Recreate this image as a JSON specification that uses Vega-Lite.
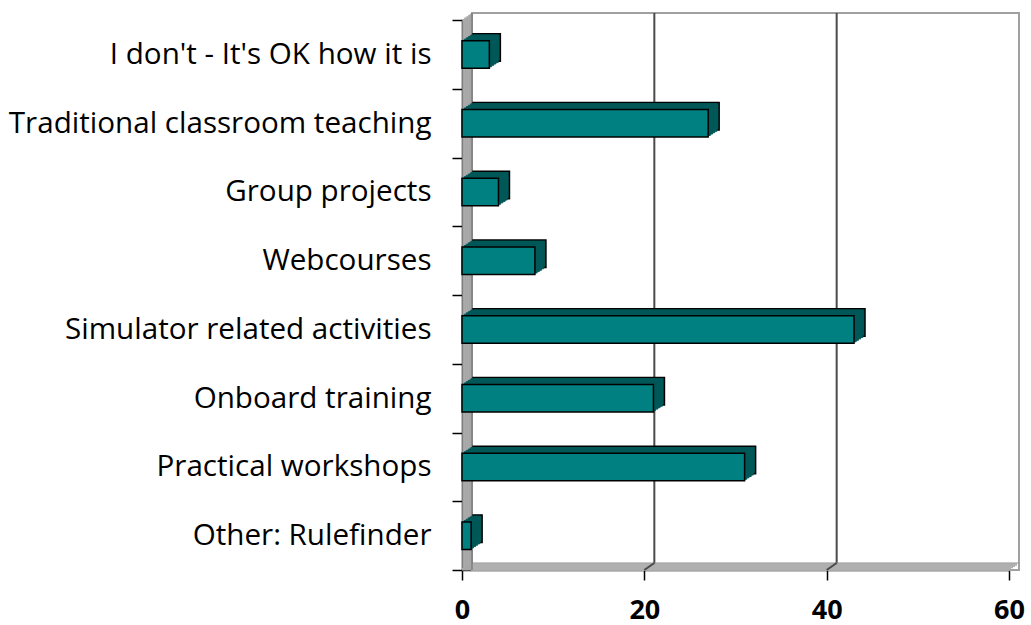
{
  "$schema": "https://vega.github.io/schema/vega-lite/v6.json",
  "autosize": "none",
  "width": 547,
  "height": 550,
  "padding": {"left": 462, "top": 20, "right": 22, "bottom": 55},
  "background": "#ffffff",
  "datasets": {
    "bars": [
      {"c": "I don't - It's OK how it is", "v": 3},
      {"c": "Traditional classroom teaching", "v": 27},
      {"c": "Group projects", "v": 4},
      {"c": "Webcourses", "v": 8},
      {"c": "Simulator related activities", "v": 43},
      {"c": "Onboard training", "v": 21},
      {"c": "Practical workshops", "v": 31},
      {"c": "Other: Rulefinder", "v": 1}
    ],
    "one": [{"w": 1}],
    "grid": [{"g": 20}, {"g": 40}]
  },
  "layer": [
    {
      "data": {"name": "bars"},
      "mark": {"type": "bar", "height": {"band": 0.4}, "opacity": 0},
      "encoding": {
        "y": {"field": "c", "type": "nominal", "sort": null, "scale": {"domain": ["I don't - It's OK how it is", "Traditional classroom teaching", "Group projects", "Webcourses", "Simulator related activities", "Onboard training", "Practical workshops", "Other: Rulefinder"], "paddingInner": 0, "paddingOuter": 0}, "axis": {"title": null}},
        "x": {"field": "v", "type": "quantitative", "stack": null, "scale": {"domain": [0, 60]}, "axis": {"values": [0, 20, 40, 60], "title": null}},
        "x2": {"datum": 0}
      }
    },
    {
      "data": {"name": "one"},
      "mark": {"type": "rect", "fill": "#ffffff", "stroke": "#a0a0a0", "strokeWidth": 2, "xOffset": 10, "x2Offset": 10, "yOffset": -7, "y2Offset": -7},
      "encoding": {"x": {"datum": 0, "type": "quantitative"}, "x2": {"datum": 60}}
    },
    {
      "data": {"name": "grid"},
      "mark": {"type": "rule", "stroke": "#4a4a4a", "strokeWidth": 2, "xOffset": 10, "x2Offset": 10, "yOffset": -7, "y2Offset": -7},
      "encoding": {"x": {"field": "g", "type": "quantitative"}}
    },
    {
      "data": {"name": "one"},
      "mark": {"type": "rule", "stroke": "#b0b0b0", "strokeWidth": 2.5, "xOffset": 0, "x2Offset": 0, "yOffset": -0.8},
      "encoding": {"x": {"datum": 0, "type": "quantitative"}, "x2": {"datum": 60}, "y": {"datum": "Other: Rulefinder", "bandPosition": 1, "type": "nominal"}}
    },
    {
      "data": {"name": "one"},
      "mark": {"type": "rule", "stroke": "#b0b0b0", "strokeWidth": 2.5, "xOffset": 2, "x2Offset": 2, "yOffset": -1.8},
      "encoding": {"x": {"datum": 0, "type": "quantitative"}, "x2": {"datum": 60}, "y": {"datum": "Other: Rulefinder", "bandPosition": 1, "type": "nominal"}}
    },
    {
      "data": {"name": "one"},
      "mark": {"type": "rule", "stroke": "#b0b0b0", "strokeWidth": 2.5, "xOffset": 4, "x2Offset": 4, "yOffset": -3.0},
      "encoding": {"x": {"datum": 0, "type": "quantitative"}, "x2": {"datum": 60}, "y": {"datum": "Other: Rulefinder", "bandPosition": 1, "type": "nominal"}}
    },
    {
      "data": {"name": "one"},
      "mark": {"type": "rule", "stroke": "#b0b0b0", "strokeWidth": 2.5, "xOffset": 6, "x2Offset": 6, "yOffset": -4.3},
      "encoding": {"x": {"datum": 0, "type": "quantitative"}, "x2": {"datum": 60}, "y": {"datum": "Other: Rulefinder", "bandPosition": 1, "type": "nominal"}}
    },
    {
      "data": {"name": "one"},
      "mark": {"type": "rule", "stroke": "#b0b0b0", "strokeWidth": 2.5, "xOffset": 8, "x2Offset": 8, "yOffset": -5.6},
      "encoding": {"x": {"datum": 0, "type": "quantitative"}, "x2": {"datum": 60}, "y": {"datum": "Other: Rulefinder", "bandPosition": 1, "type": "nominal"}}
    },
    {
      "data": {"name": "one"},
      "mark": {"type": "rule", "stroke": "#909090", "strokeWidth": 1, "xOffset": 10, "x2Offset": 10, "yOffset": -7},
      "encoding": {"x": {"datum": 0, "type": "quantitative"}, "x2": {"datum": 60}, "y": {"datum": "Other: Rulefinder", "bandPosition": 1, "type": "nominal"}}
    },
    {
      "data": {"name": "grid"},
      "mark": {"type": "point", "shape": "M0,0L-1,0.7", "filled": false, "size": 400, "stroke": "#4a4a4a", "strokeWidth": 2, "opacity": 1, "xOffset": 10, "yOffset": -7},
      "encoding": {"x": {"field": "g", "type": "quantitative"}, "y": {"datum": "Other: Rulefinder", "bandPosition": 1, "type": "nominal"}}
    },
    {
      "data": {"name": "one"},
      "mark": {"type": "rule", "stroke": "#a6a6a6", "strokeWidth": 2.5, "xOffset": 1.5, "x2Offset": 1.5, "yOffset": -1, "y2Offset": -1},
      "encoding": {"x": {"datum": 0, "type": "quantitative"}}
    },
    {
      "data": {"name": "one"},
      "mark": {"type": "rule", "stroke": "#a6a6a6", "strokeWidth": 2.5, "xOffset": 3.5, "x2Offset": 3.5, "yOffset": -2.4, "y2Offset": -2.4},
      "encoding": {"x": {"datum": 0, "type": "quantitative"}}
    },
    {
      "data": {"name": "one"},
      "mark": {"type": "rule", "stroke": "#a6a6a6", "strokeWidth": 2.5, "xOffset": 5.5, "x2Offset": 5.5, "yOffset": -3.8, "y2Offset": -3.8},
      "encoding": {"x": {"datum": 0, "type": "quantitative"}}
    },
    {
      "data": {"name": "one"},
      "mark": {"type": "rule", "stroke": "#a6a6a6", "strokeWidth": 2.5, "xOffset": 7.5, "x2Offset": 7.5, "yOffset": -5.2, "y2Offset": -5.2},
      "encoding": {"x": {"datum": 0, "type": "quantitative"}}
    },
    {
      "data": {"name": "one"},
      "mark": {"type": "rule", "stroke": "#a6a6a6", "strokeWidth": 2, "xOffset": 9, "x2Offset": 9, "yOffset": -6.3, "y2Offset": -6.3},
      "encoding": {"x": {"datum": 0, "type": "quantitative"}}
    },
    {
      "data": {"name": "one"},
      "mark": {"type": "rule", "stroke": "#6a6a6a", "strokeWidth": 1, "xOffset": 10, "x2Offset": 10, "yOffset": -7, "y2Offset": -7},
      "encoding": {"x": {"datum": 0, "type": "quantitative"}}
    },
    {
      "data": {"name": "bars"},
      "mark": {"type": "bar", "height": {"band": 0.4}, "fill": "#005858", "stroke": "#000000", "strokeWidth": 1.5, "xOffset": 11, "x2Offset": 11, "yOffset": -7, "y2Offset": -7},
      "encoding": {
        "y": {"field": "c", "type": "nominal", "sort": null},
        "x": {"field": "v", "type": "quantitative", "stack": null},
        "x2": {"datum": 0}
      }
    },
    {
      "data": {"name": "bars"},
      "mark": {"type": "bar", "height": {"band": 0.4}, "fill": "#005858", "stroke": "#005858", "strokeWidth": 1, "xOffset": 8.8, "x2Offset": 8.8, "yOffset": -5.6, "y2Offset": -5.6},
      "encoding": {
        "y": {"field": "c", "type": "nominal", "sort": null},
        "x": {"field": "v", "type": "quantitative", "stack": null},
        "x2": {"datum": 0}
      }
    },
    {
      "data": {"name": "bars"},
      "mark": {"type": "bar", "height": {"band": 0.4}, "fill": "#005858", "stroke": "#005858", "strokeWidth": 1, "xOffset": 6.6, "x2Offset": 6.6, "yOffset": -4.2, "y2Offset": -4.2},
      "encoding": {
        "y": {"field": "c", "type": "nominal", "sort": null},
        "x": {"field": "v", "type": "quantitative", "stack": null},
        "x2": {"datum": 0}
      }
    },
    {
      "data": {"name": "bars"},
      "mark": {"type": "bar", "height": {"band": 0.4}, "fill": "#005858", "stroke": "#005858", "strokeWidth": 1, "xOffset": 4.4, "x2Offset": 4.4, "yOffset": -2.8, "y2Offset": -2.8},
      "encoding": {
        "y": {"field": "c", "type": "nominal", "sort": null},
        "x": {"field": "v", "type": "quantitative", "stack": null},
        "x2": {"datum": 0}
      }
    },
    {
      "data": {"name": "bars"},
      "mark": {"type": "bar", "height": {"band": 0.4}, "fill": "#005858", "stroke": "#005858", "strokeWidth": 1, "xOffset": 2.2, "x2Offset": 2.2, "yOffset": -1.4, "y2Offset": -1.4},
      "encoding": {
        "y": {"field": "c", "type": "nominal", "sort": null},
        "x": {"field": "v", "type": "quantitative", "stack": null},
        "x2": {"datum": 0}
      }
    },
    {
      "data": {"name": "bars"},
      "mark": {"type": "bar", "height": {"band": 0.4}, "fill": "#008080", "stroke": "#000000", "strokeWidth": 1.5},
      "encoding": {
        "y": {"field": "c", "type": "nominal", "sort": null},
        "x": {"field": "v", "type": "quantitative", "stack": null},
        "x2": {"datum": 0}
      }
    }
  ],
  "config": {
    "view": {"stroke": null},
    "axis": {"grid": false, "domainColor": "#000000", "tickColor": "#000000", "labelColor": "#000000", "zindex": 1, "domainWidth": 1.5, "tickWidth": 1.5, "tickSize": 10, "title": null},
    "axisY": {"tickBand": "extent", "labelFont": "Open Sans", "labelFontSize": 29.6, "labelPadding": 21, "labelLimit": 500},
    "axisX": {"labelFont": "Open Sans", "labelFontSize": 27, "labelFontWeight": "bold", "labelPadding": 17, "labelFlush": false}
  }
}
